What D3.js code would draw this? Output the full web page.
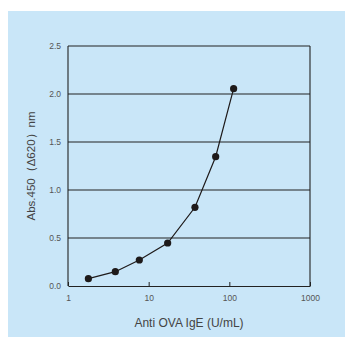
<!DOCTYPE html>
<html>
<head>
<meta charset="utf-8">
<script src="https://cdn.jsdelivr.net/npm/d3@7"></script>
<style>
  body { margin: 0; background: #fff; }
  text { font-family: "Liberation Sans", Arial, sans-serif; }
</style>
</head>
<body>
<div id="chart"></div>
<script>
const conc = [1.79, 3.86, 7.66, 17.2, 37.5, 67.7, 113];
const absorbance = [0.076, 0.149, 0.271, 0.448, 0.82, 1.347, 2.055];
const xTicks = [1, 10, 100, 1000];
const yTicks = [0.0, 0.5, 1.0, 1.5, 2.0, 2.5];

const W = 345, H = 338;
const margin = {top: 46, right: 35, bottom: 52, left: 68},
    width = W - margin.left - margin.right,
    height = H - margin.top - margin.bottom;

const svg = d3.select("#chart")
    .append("svg")
    .attr("width", W)
    .attr("height", H);

// light blue panel
svg.append("rect")
    .attr("x", 8).attr("y", 11)
    .attr("width", W - 8).attr("height", 326)
    .attr("fill", "#c9e6f8");

const g = svg.append("g")
    .attr("transform", `translate(${margin.left}, ${margin.top})`);

const x = d3.scaleLog()
    .domain([1, 1000])
    .range([0, width]);
const y = d3.scaleLinear()
    .domain([0, 2.5])
    .range([height, 0]);

// horizontal gridlines
g.append("g")
    .selectAll("line")
    .data(yTicks.slice(1))
    .join("line")
    .attr("x1", 0).attr("x2", width)
    .attr("y1", d => y(d)).attr("y2", d => y(d))
    .attr("stroke", "#222")
    .attr("stroke-width", 1.1);

// frame sides
g.append("line")
    .attr("x1", 0).attr("x2", 0).attr("y1", 0).attr("y2", height)
    .attr("stroke", "#222").attr("stroke-width", 1.1);
g.append("line")
    .attr("x1", width).attr("x2", width).attr("y1", 0).attr("y2", height)
    .attr("stroke", "#222").attr("stroke-width", 1.1);

// x axis with inward ticks
const xAxis = g.append("g")
    .attr("transform", `translate(0, ${height})`)
    .call(d3.axisBottom(x).tickValues(xTicks).tickFormat(d3.format("d")).tickSize(-4).tickSizeOuter(0));
xAxis.select(".domain").attr("stroke", "#222").attr("stroke-width", 1.1);
xAxis.selectAll(".tick line").attr("stroke", "#222");
xAxis.selectAll(".tick text")
    .attr("y", 9)
    .attr("font-size", "8.5px")
    .attr("fill", "#555")
    .attr("font-family", "Liberation Sans Narrow, Liberation Sans, sans-serif");

// y axis labels
const yAxis = g.append("g")
    .call(d3.axisLeft(y).tickValues(yTicks).tickFormat(d3.format(".1f")).tickSize(0).tickPadding(7));
yAxis.select(".domain").remove();
yAxis.selectAll(".tick text")
    .attr("font-size", "8.5px")
    .attr("fill", "#555")
    .attr("font-family", "Liberation Sans Narrow, Liberation Sans, sans-serif");

// line + dots
const pts = conc.map((c, i) => [c, absorbance[i]]);
g.append("path")
    .datum(pts)
    .attr("fill", "none")
    .attr("stroke", "#1e1a1a")
    .attr("stroke-width", 1.2)
    .attr("d", d3.line().x(d => x(d[0])).y(d => y(d[1])));

g.append("g")
    .selectAll("circle")
    .data(pts)
    .join("circle")
    .attr("cx", d => x(d[0]))
    .attr("cy", d => y(d[1]))
    .attr("r", 3.6)
    .attr("fill", "#1e1a1a");

// axis titles
svg.append("text")
    .attr("text-anchor", "middle")
    .attr("x", 189)
    .attr("y", 327)
    .attr("font-size", "12px")
    .attr("fill", "#444")
    .text("Anti OVA IgE (U/mL)");

svg.append("text")
    .attr("text-anchor", "middle")
    .attr("transform", "translate(35, 166) rotate(-90)")
    .attr("font-size", "11.5px")
    .attr("fill", "#444")
    .text("Abs.450（Δ620）nm");
</script>
</body>
</html>
